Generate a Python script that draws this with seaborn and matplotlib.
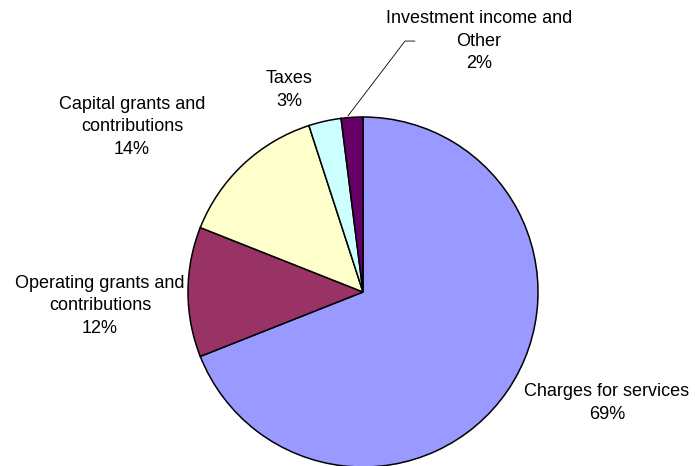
import matplotlib
matplotlib.use("Agg")
import matplotlib.pyplot as plt
import seaborn as sns

categories = ["Charges for services", "Operating grants and\ncontributions",
              "Capital grants and\ncontributions", "Taxes", "Investment income and\nOther"]
shares = [69, 12, 14, 3, 2]
colors = ["#9999FF", "#993366", "#FFFFCC", "#CCFFFF", "#660066"]

sns.set_theme(style="white")
plt.rcParams['font.family'] = ['Liberation Sans', 'DejaVu Sans']

fig = plt.figure(figsize=(6.95, 4.66), dpi=100)
# pie centred at about (363, 292) px with radius ~175 px
ax = fig.add_axes([188 / 695, -1 / 466, 350 / 695, 350 / 466])
ax.pie(shares, colors=colors, startangle=90, counterclock=False,
       wedgeprops=dict(edgecolor="black", linewidth=1.1))
ax.set_xlim(-1, 1)
ax.set_ylim(-1, 1)
ax.set_aspect("equal")
ax.axis("off")

# label positions (data units, radius = 1)
label_pos = [(1.394, -0.634), (-1.503, -0.08), (-1.32, 0.943), (-0.423, 1.154), (0.663, 1.434)]
for name, val, (x, y) in zip(categories, shares, label_pos):
    ax.text(x, y, f"{name}\n{val}%", ha="center", va="center", fontsize=13,
            linespacing=1.45, color="black", clip_on=False)

# leader line for the small slice
ax.plot([-0.086, 0.24, 0.297], [1.006, 1.434, 1.434], color="black", lw=0.6, clip_on=False)

fig.savefig("out.png", dpi=100)
